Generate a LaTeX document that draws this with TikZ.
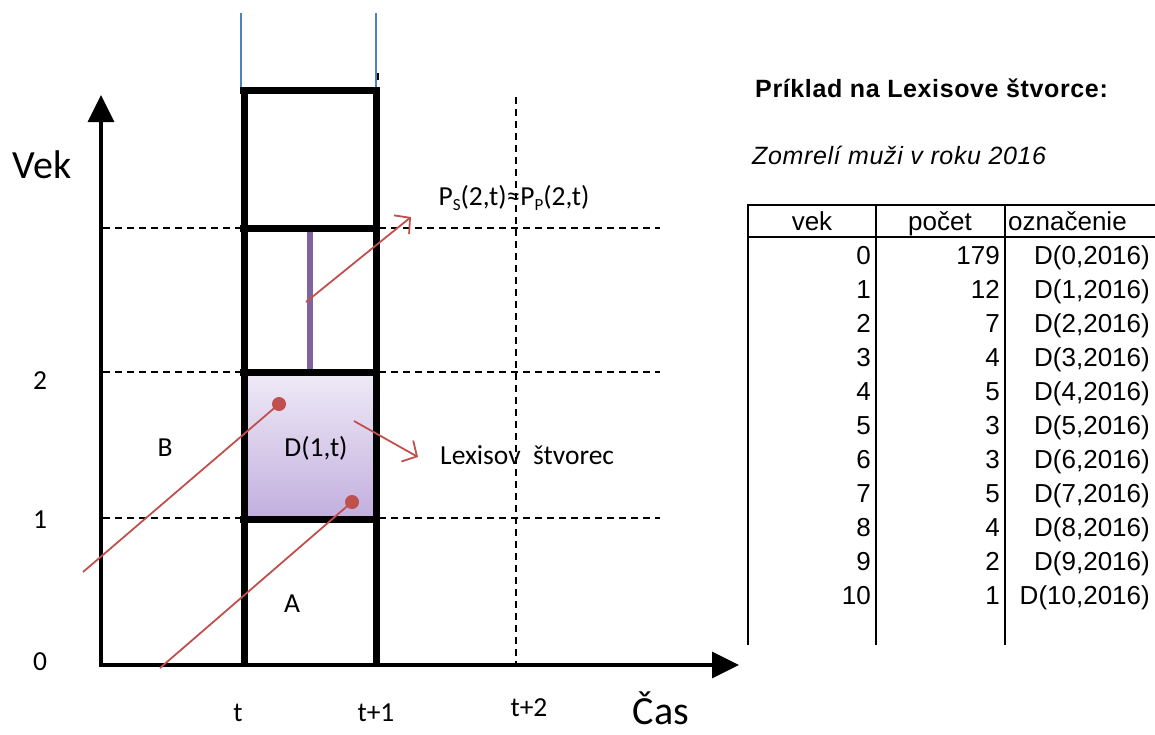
\documentclass[tikz,border=0pt]{standalone}
\usepackage{fontspec}
\setmainfont{Carlito}
\newfontfamily\tabfont{Liberation Sans}
\newfontfamily\headfont[LetterSpace=2.5]{Liberation Sans}
\usetikzlibrary{arrows.meta}
\definecolor{redline}{HTML}{C0504D}
\definecolor{purpleline}{HTML}{8064A2}
\definecolor{blueline}{HTML}{4F81BD}
\definecolor{boxtop}{HTML}{EEE9F6}
\definecolor{boxbottom}{HTML}{C3B0DF}
\newcommand{\lowsub}[1]{\raisebox{-0.45ex}{\fontsize{17}{18}\selectfont #1}}
\tikzset{
  axis/.style={line width=3.5pt, -{Triangle[length=27pt,width=26pt]}},
  heavy/.style={line width=7pt},
  grid/.style={line width=1.6pt, dash pattern=on 7pt off 5pt},
  trace/.style={redline, line width=1.8pt},
  tracearrow/.style={trace, -{Straight Barb[length=11pt,width=24pt,line width=1.8pt]}},
  dot/.style={circle, fill=redline, inner sep=0pt, minimum size=14pt},
  lab/.style={font=\fontsize{27.5}{30}\selectfont, inner sep=0pt},
  big/.style={font=\fontsize{40}{44}\selectfont, inner sep=0pt},
  cell/.style={font=\tabfont\fontsize{26}{28}\selectfont, inner sep=0pt},
  rule/.style={line width=2pt}
}
\begin{document}
\begin{tikzpicture}[x=1pt,y=-1pt]
\useasboundingbox (0,0) rectangle (1155,734);

% grid points
\coordinate (o) at (101,665);
\coordinate (ytip) at (101,95);
\coordinate (xtip) at (739,665);

% dashed grid
\coordinate (g1a) at (103,518); \coordinate (g1b) at (660,518);
\coordinate (g2a) at (103,372); \coordinate (g2b) at (660,372);
\coordinate (g3a) at (103,228); \coordinate (g3b) at (660,228);
\coordinate (v2a) at (516,97);  \coordinate (v2b) at (516,665);
\draw[grid] (g1a) -- (g1b);
\draw[grid] (g2a) -- (g2b);
\draw[grid] (g3a) -- (g3b);
\draw[grid] (v2a) -- (v2b);

% Lexis square D(1,t)
\coordinate (sqa) at (247,375); \coordinate (sqb) at (373,516);
\shade[top color=boxtop, bottom color=boxbottom, draw=purpleline, line width=1pt] (sqa) rectangle (sqb);

% purple bar
\coordinate (pba) at (310,229); \coordinate (pbb) at (310,370);
\draw[purpleline, line width=6.5pt] (pba) -- (pbb);

% blue guide lines
\coordinate (bl1) at (241,13); \coordinate (bl2) at (241,88);
\coordinate (br1) at (376,13); \coordinate (br2) at (376,88);
\draw[blueline, line width=1.3pt] (bl1) -- (bl2);
\draw[blueline, line width=1.3pt] (br1) -- (br2);
\coordinate (tk1) at (378,73); \coordinate (tk2) at (378,80);
\draw[line width=1.5pt] (tk1) -- (tk2);

% heavy cohort column
\coordinate (c0) at (244,87);  \coordinate (c0b) at (244,667);
\coordinate (c1) at (376,87);  \coordinate (c1b) at (376,667);
\coordinate (h0a) at (240,90);  \coordinate (h0b) at (380,90);
\coordinate (h1a) at (240,228); \coordinate (h1b) at (380,228);
\coordinate (h2a) at (240,372); \coordinate (h2b) at (380,372);
\coordinate (h3a) at (240,519); \coordinate (h3b) at (380,519);
\draw[heavy] (c0) -- (c0b);
\draw[heavy] (c1) -- (c1b);
\draw[heavy] (h0a) -- (h0b);
\draw[heavy] (h1a) -- (h1b);
\draw[heavy] (h2a) -- (h2b);
\draw[heavy] (h3a) -- (h3b);

% axes
\coordinate (ybase) at (101,667);
\coordinate (xbase) at (99,665);
\draw[axis] (ybase) -- (ytip);
\draw[axis] (xbase) -- (xtip);

% life lines
\node[dot] (d1) at (279,404) {};
\node[dot] (d2) at (352,502) {};
\coordinate (l1s) at (83,572);
\coordinate (l2s) at (160,668);
\draw[trace] (l1s) -- (d1.center);
\draw[trace] (l2s) -- (d2.center);
\coordinate (a1s) at (306,302); \coordinate (a1e) at (411,217);
\coordinate (a2s) at (354,421); \coordinate (a2e) at (418,457);
\draw[tracearrow] (a1s) -- (a1e);
\draw[tracearrow] (a2s) -- (a2e);

% axis labels
\node[big] (vek) at (42,165) {Vek};
\node[big, anchor=base] (cas) at (661,724) {Čas};
\node[lab] (y0) at (40,662) {0};
\node[lab] (y1) at (40,520) {1};
\node[lab] (y2) at (40,381) {2};
\node[lab] (t0) at (238,713) {t};
\node[lab] (t1) at (376,713) {t+1};
\node[lab] (t2) at (529,708) {t+2};

% region labels
\node[lab] (lb) at (165,448) {B};
\node[lab] (la) at (292,604) {A};
\node[lab] (ld) at (316,448) {D(1,t)};
\node[lab, anchor=west] (lx) at (440,455) {Lexisov\ \ štvorec};
\node[lab] (lp) at (514,198) {P\lowsub{S}(2,t)\char"2248 P\lowsub{P}(2,t)};

% heading
\node[font=\headfont\bfseries\fontsize{25}{28}\selectfont, anchor=west, inner sep=0pt] (title) at (755,88) {Príklad na Lexisove štvorce:};
\node[font=\headfont\itshape\fontsize{25}{28}\selectfont, anchor=west, inner sep=0pt] (sub) at (752,155) {Zomrelí muži v roku 2016};

% table frame
\coordinate (tt1) at (748,205);  \coordinate (tt2) at (1155,205);
\coordinate (th1) at (748,237);  \coordinate (th2) at (1155,237);
\coordinate (tv1a) at (748,204); \coordinate (tv1b) at (748,645);
\coordinate (tv2a) at (876,204); \coordinate (tv2b) at (876,645);
\coordinate (tv3a) at (1005,204); \coordinate (tv3b) at (1005,645);
\draw[rule] (tt1) -- (tt2);
\draw[rule] (th1) -- (th2);
\draw[rule] (tv1a) -- (tv1b);
\draw[rule] (tv2a) -- (tv2b);
\draw[rule] (tv3a) -- (tv3b);

% table header
\node[cell, anchor=base] (hvek) at (812,230) {vek};
\node[cell, anchor=base] (hpoc) at (940,230) {počet};
\node[cell, anchor=base west] (hozn) at (1008,230) {označenie};

% table rows
\foreach \a/\n [count=\i from 0] in {0/179,1/12,2/7,3/4,4/5,5/3,6/3,7/5,8/4,9/2,10/1}{
  \node[cell, anchor=base east] (ra\i) at (871,264+34*\i) {\a};
  \node[cell, anchor=base east] (rn\i) at (1000,264+34*\i) {\n};
  \node[cell, anchor=base east] (rd\i) at (1150,264+34*\i) {D(\a,2016)};
}
\end{tikzpicture}
\end{document}
